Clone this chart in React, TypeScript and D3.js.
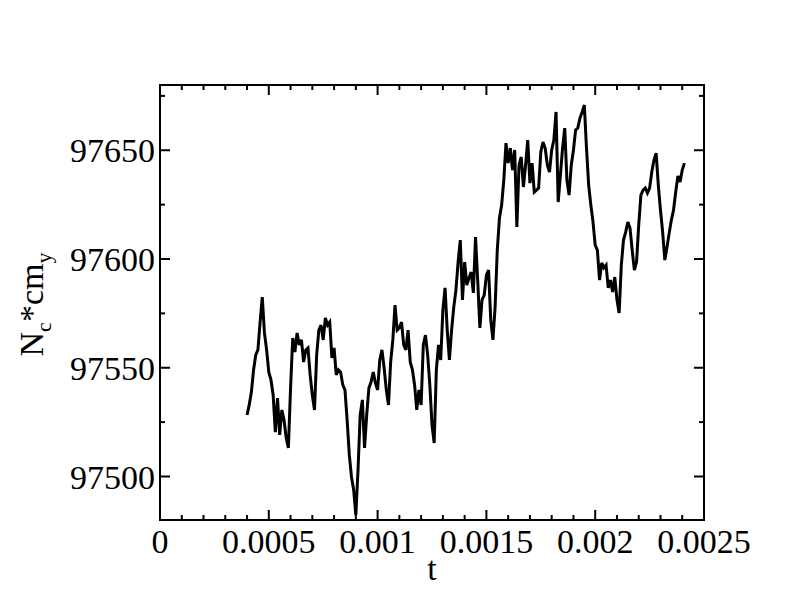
import React from "react";
import * as d3 from "d3";

const tValues: number[] = [
  0.0004, 0.00041, 0.00042, 0.00043, 0.00044, 0.00045, 0.00046, 0.00047, 0.00048, 0.00049,
  0.0005, 0.00051, 0.00052, 0.00053, 0.00054, 0.00055, 0.00056, 0.00057, 0.00058, 0.00059,
  0.0006, 0.00061, 0.00062, 0.00063, 0.00064, 0.00065, 0.00066, 0.00067, 0.00068, 0.00069,
  0.0007, 0.00071, 0.00072, 0.00073, 0.00074, 0.00075, 0.00076, 0.00077, 0.00078, 0.00079,
  0.0008, 0.00081, 0.00082, 0.00083, 0.00084, 0.00085, 0.00086, 0.00087, 0.00088, 0.00089,
  0.0009, 0.00091, 0.00092, 0.00093, 0.00094, 0.00095, 0.00096, 0.00097, 0.00098, 0.00099,
  0.001, 0.00101, 0.00102, 0.00103, 0.00104, 0.00105, 0.00106, 0.00107, 0.00108, 0.00109,
  0.0011, 0.00111, 0.00112, 0.00113, 0.00114, 0.00115, 0.00116, 0.00117, 0.00118, 0.00119,
  0.0012, 0.00121, 0.00122, 0.00123, 0.00124, 0.00125, 0.00126, 0.00127, 0.00128, 0.00129,
  0.0013, 0.00131, 0.00132, 0.00133, 0.00134, 0.00135, 0.00136, 0.00137, 0.00138, 0.00139,
  0.0014, 0.00141, 0.00142, 0.00143, 0.00144, 0.00145, 0.00146, 0.00147, 0.00148, 0.00149,
  0.0015, 0.00151, 0.00152, 0.00153, 0.00154, 0.00155, 0.00156, 0.00157, 0.00158, 0.00159,
  0.0016, 0.00161, 0.00162, 0.00163, 0.00164, 0.00165, 0.00166, 0.00167, 0.00168, 0.00169,
  0.0017, 0.00171, 0.00172, 0.00173, 0.00174, 0.00175, 0.00176, 0.00177, 0.00178, 0.00179,
  0.0018, 0.00181, 0.00182, 0.00183, 0.00184, 0.00185, 0.00186, 0.00187, 0.00188, 0.00189,
  0.0019, 0.00191, 0.00192, 0.00193, 0.00194, 0.00195, 0.00196, 0.00197, 0.00198, 0.00199,
  0.002, 0.00201, 0.00202, 0.00203, 0.00204, 0.00205, 0.00206, 0.00207, 0.00208, 0.00209,
  0.0021, 0.00211, 0.00212, 0.00213, 0.00214, 0.00215, 0.00216, 0.00217, 0.00218, 0.00219,
  0.0022, 0.00221, 0.00222, 0.00223, 0.00224, 0.00225, 0.00226, 0.00227, 0.00228, 0.00229,
  0.0023, 0.00231, 0.00232, 0.00233, 0.00234, 0.00235, 0.00236, 0.00237, 0.00238, 0.00239,
  0.0024, 0.00241,
];

const ncCmY: number[] = [
  97528.3, 97532.9, 97538.8, 97549.0, 97555.9, 97558.2, 97571.0, 97582.5, 97566.0, 97558.2,
  97548.0, 97544.4, 97537.5, 97520.4, 97536.1, 97519.1, 97530.6, 97526.0, 97517.7, 97513.1,
  97540.7, 97563.7, 97557.2, 97566.0, 97560.5, 97562.8, 97552.6, 97558.2, 97559.1, 97546.7,
  97537.5, 97530.6, 97555.9, 97567.3, 97569.6, 97562.8, 97572.9, 97569.6, 97571.0, 97554.5,
  97559.1, 97546.7, 97549.0, 97548.0, 97542.1, 97539.8, 97525.9, 97509.9, 97499.8, 97493.8,
  97482.3, 97503.0, 97528.3, 97535.2, 97513.1, 97528.3, 97540.7, 97543.4, 97548.0, 97543.0,
  97539.8, 97553.6, 97558.2, 97549.9, 97539.8, 97532.9, 97552.6, 97562.8, 97578.8, 97567.3,
  97568.3, 97571.0, 97560.5, 97558.2, 97567.3, 97552.6, 97549.0, 97542.1, 97530.6, 97539.8,
  97532.9, 97560.5, 97565.0, 97555.9, 97542.1, 97523.7, 97515.4, 97549.0, 97560.5, 97553.6,
  97576.5, 97586.7, 97567.3, 97553.6, 97567.3, 97577.9, 97585.7, 97598.6, 97608.7, 97581.2,
  97598.6, 97588.0, 97591.3, 97594.0, 97584.4, 97610.1, 97590.3, 97568.3, 97581.2, 97583.4,
  97592.6, 97594.9, 97572.0, 97562.8, 97577.9, 97604.1, 97618.8, 97624.8, 97636.3, 97653.3,
  97644.1, 97651.0, 97640.9, 97650.1, 97614.7, 97643.2, 97646.9, 97633.1, 97643.2, 97654.7,
  97634.9, 97644.1, 97630.8, 97631.7, 97632.6, 97649.2, 97653.8, 97651.0, 97643.2, 97640.0,
  97650.1, 97654.7, 97667.6, 97626.2, 97638.6, 97651.0, 97660.2, 97636.3, 97629.4, 97643.2,
  97650.1, 97659.3, 97660.2, 97664.8, 97667.6, 97670.8, 97651.0, 97634.0, 97624.8, 97617.0,
  97606.4, 97604.1, 97590.3, 97598.2, 97595.9, 97597.2, 97586.7, 97590.3, 97584.8, 97591.7,
  97581.2, 97575.2, 97597.2, 97608.7, 97612.4, 97617.0, 97614.2, 97604.1, 97594.9, 97598.6,
  97615.6, 97629.4, 97631.7, 97632.6, 97630.3, 97632.6, 97640.0, 97645.5, 97648.7, 97634.0,
  97622.5, 97612.4, 97599.5, 97605.5, 97611.9, 97617.9, 97622.5, 97630.8, 97638.2, 97635.4,
  97640.9, 97644.1,
];

const xMajorTicks: number[] = [0, 0.0005, 0.001, 0.0015, 0.002, 0.0025];
const xTickLabels: string[] = ["0", "0.0005", "0.001", "0.0015", "0.002", "0.0025"];
const yMajorTicks: number[] = [97500, 97550, 97600, 97650];
const yTickLabels: string[] = ["97500", "97550", "97600", "97650"];
const xMinorTicks: number[] = [
  0.0001, 0.0002, 0.0003, 0.0004, 0.0006, 0.0007, 0.0008, 0.0009,
  0.0011, 0.0012, 0.0013, 0.0014, 0.0016, 0.0017, 0.0018, 0.0019,
  0.0021, 0.0022, 0.0023, 0.0024,
];
const yMinorTicks: number[] = [97525, 97575, 97625, 97675];
const xDomain: [number, number] = [0, 0.0025];
const yDomain: [number, number] = [97480, 97680];

const W = 792;
const H = 612;
const left = 160;
const right = 704;
const top = 85;
const bottom = 520;
const FONT = "'Liberation Serif', 'Times New Roman', Times, serif";

export default function App() {
  const x = d3.scaleLinear().domain(xDomain).range([left, right]);
  const y = d3.scaleLinear().domain(yDomain).range([bottom, top]);

  const data = tValues.map((t, i) => [t, ncCmY[i]] as [number, number]);
  const line = d3
    .line<[number, number]>()
    .x((d) => x(d[0]))
    .y((d) => y(d[1]));

  const major = 10;
  const minor = 5;

  return (
    <svg
      width={W}
      height={H}
      style={{ position: "absolute", left: 0, top: 0, background: "#fff" }}
    >
      <rect x={0} y={0} width={W} height={H} fill="#fff" />
      <path d={line(data) || ""} fill="none" stroke="#000" strokeWidth={3} strokeLinejoin="miter" strokeMiterlimit={3} />
      <g stroke="#000" strokeWidth={2}>
        {xMajorTicks.map((v) => (
          <g key={"xM" + v}>
            <line x1={x(v)} x2={x(v)} y1={bottom} y2={bottom - major} />
            <line x1={x(v)} x2={x(v)} y1={top} y2={top + major} />
          </g>
        ))}
        {xMinorTicks.map((v) => (
          <g key={"xm" + v}>
            <line x1={x(v)} x2={x(v)} y1={bottom} y2={bottom - minor} />
            <line x1={x(v)} x2={x(v)} y1={top} y2={top + minor} />
          </g>
        ))}
        {yMajorTicks.map((v) => (
          <g key={"yM" + v}>
            <line x1={left} x2={left + major} y1={y(v)} y2={y(v)} />
            <line x1={right} x2={right - major} y1={y(v)} y2={y(v)} />
          </g>
        ))}
        {yMinorTicks.map((v) => (
          <g key={"ym" + v}>
            <line x1={left} x2={left + minor} y1={y(v)} y2={y(v)} />
            <line x1={right} x2={right - minor} y1={y(v)} y2={y(v)} />
          </g>
        ))}
      </g>
      <rect x={left} y={top} width={right - left} height={bottom - top} fill="none" stroke="#000" strokeWidth={2} />
      <g fontFamily={FONT} fontSize={34} fill="#000">
        {xMajorTicks.map((v, i) => (
          <text key={"xl" + v} x={x(v)} y={553} textAnchor="middle">
            {xTickLabels[i]}
          </text>
        ))}
        {yMajorTicks.map((v, i) => (
          <text key={"yl" + v} x={155} y={y(v) + 12} textAnchor="end">
            {yTickLabels[i]}
          </text>
        ))}
        <text x={(left + right) / 2} y={580} textAnchor="middle">t</text>
        <text transform={`translate(43, ${(top + bottom) / 2 + 2}) rotate(-90)`} textAnchor="middle" fontSize={34}>
          N<tspan fontSize={22} dy={8}>c</tspan>
          <tspan dy={-8}>*cm</tspan>
          <tspan fontSize={22} dy={8}>y</tspan>
        </text>
      </g>
    </svg>
  );
}
